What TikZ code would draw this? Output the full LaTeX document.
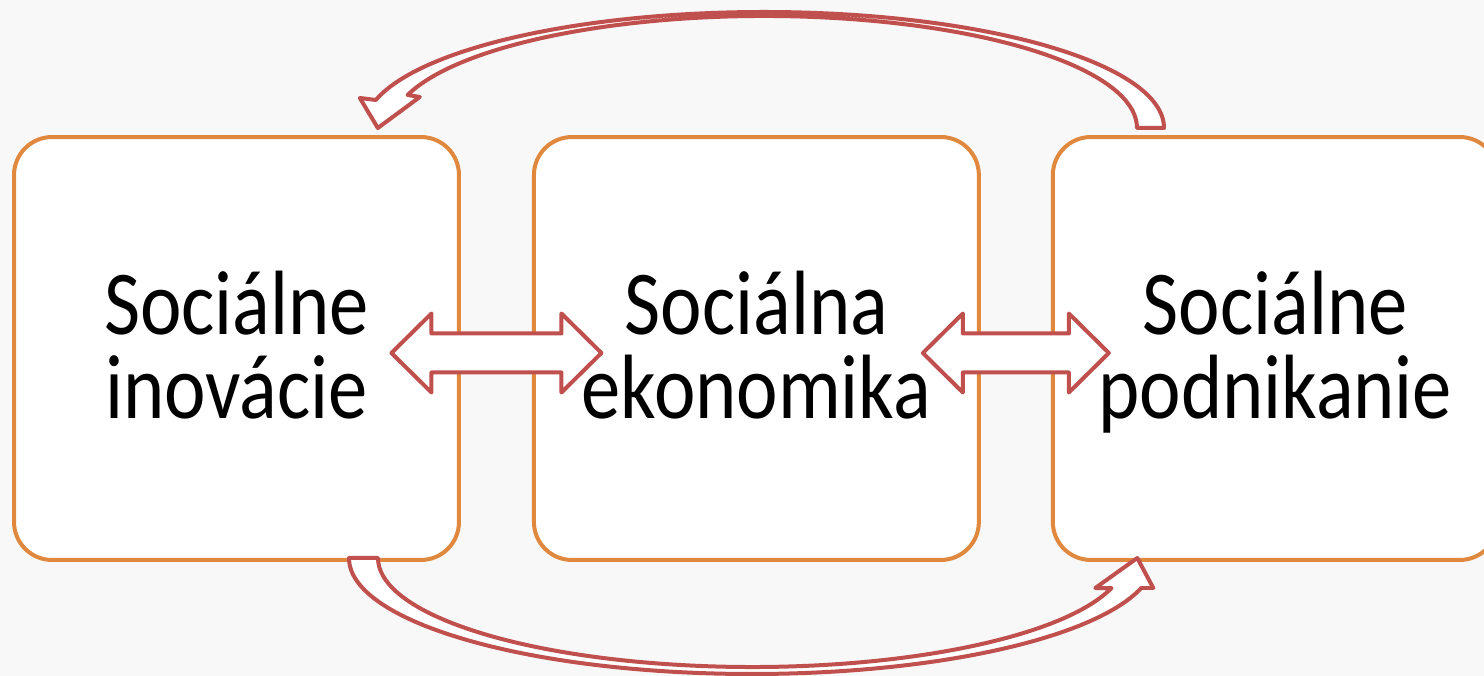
\documentclass[tikz,border=0pt]{standalone}
\usepackage{fontspec}
\usepackage{tikz}
\usetikzlibrary{calc,positioning}
\newfontfamily\boxfont[FakeStretch=0.86]{Carlito}
\definecolor{boxorange}{RGB}{224,136,62}
\definecolor{arrred}{RGB}{192,80,77}
\definecolor{bggray}{RGB}{248,248,248}

\begin{document}
\begin{tikzpicture}[x=0.02cm, y=0.02cm]
    \tikzstyle{sbox} = [draw=boxorange, fill=white, line width=0.08cm, rounded corners=0.76cm, minimum width=8.9cm, minimum height=8.46cm, inner sep=0pt, outer sep=0pt, align=center, font=\boxfont\fontsize{52}{48}\selectfont]
    \tikzstyle{blockarr} = [draw=arrred, fill=white, line width=0.08cm, line join=round]

    \useasboundingbox (0,0) rectangle (1484,676);
    \clip (0,0) rectangle (1484,676);
    \fill[bggray] (0,0) rectangle (1484,676);

    \node[sbox] (inov) at (236.5,327.5) {\rule{0pt}{46pt}Sociálne\\inovácie\rule[-14pt]{0pt}{14pt}};
    \node[sbox, right=1.5cm of inov] (ekon) {\rule{0pt}{46pt}Sociálna\\ekonomika\rule[-14pt]{0pt}{14pt}};
    \node[sbox, right=1.48cm of ekon] (podn) {\rule{0pt}{46pt}Sociálne\\podnikanie\rule[-14pt]{0pt}{14pt}};

    \coordinate (m12) at ($(inov.east)!0.5!(ekon.west)$);
    \coordinate (m23) at ($(ekon.east)!0.5!(podn.west)$);
    \draw[blockarr] ($(m12)+(-105,-4.5)$) -- ++(40,39.5) -- ++(0,-20) -- ++(130,0) -- ++(0,20) -- ++(40,-39.5)
        -- ++(-40,-39.5) -- ++(0,20) -- ++(-130,0) -- ++(0,-20) -- cycle;
    \draw[blockarr] ($(m23)+(-93,-4.5)$) -- ++(40,39.5) -- ++(0,-20) -- ++(106,0) -- ++(0,20) -- ++(40,-39.5)
        -- ++(-40,-39.5) -- ++(0,20) -- ++(-106,0) -- ++(0,-20) -- cycle;

    % curved arrows over and under the boxes
    \coordinate (ctop) at (764,548);
    \coordinate (cbot) at (752,118);
    \draw[blockarr] ($(ctop)+(0:400 and 116)$) arc[start angle=0, end angle=166.03, x radius=400, y radius=116]
        -- ++(-16,2) -- ++(18,-30) -- ++(42,31)
        -- ($(ctop)+(162.86:373 and 112)$) arc[start angle=162.86, end angle=0, x radius=373, y radius=112] -- cycle;
    \draw[blockarr] ($(cbot)+(180:403 and 116)$) arc[start angle=180, end angle=345.01, x radius=403, y radius=116]
        -- ++(12,0) -- ++(-16,30) -- ++(-42,-30)
        -- ($(cbot)+(-15.98:374 and 109)$) arc[start angle=-15.98, end angle=-180, x radius=374, y radius=109] -- cycle;
\end{tikzpicture}
\end{document}
